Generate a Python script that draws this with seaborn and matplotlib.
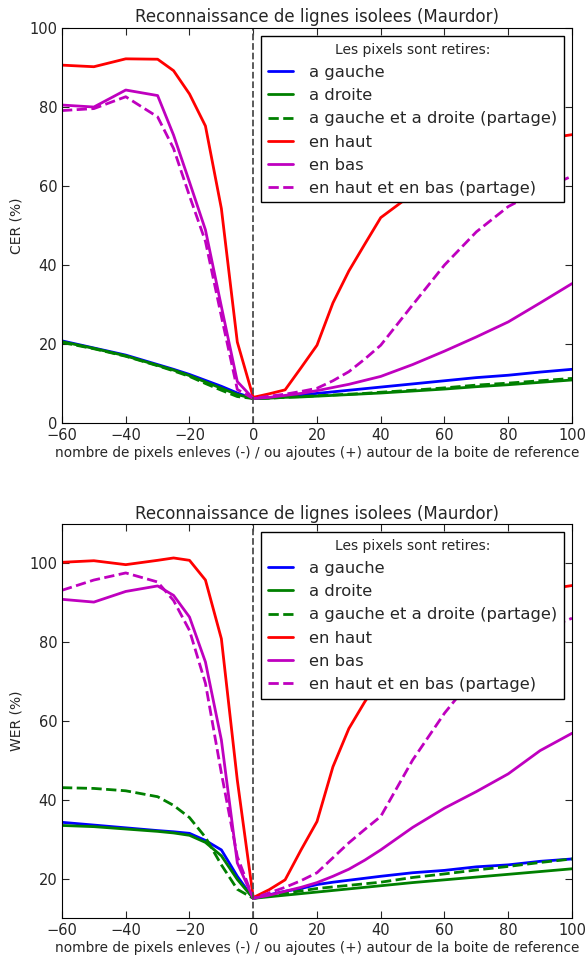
import numpy as np
import pandas as pd
import seaborn as sns
import matplotlib
matplotlib.use("Agg")
import matplotlib.pyplot as plt

## pixels removed (-) or added (+) around the reference box
x_pix = [-60, -50, -40, -30, -25, -20, -15, -10, -5, 0, 5, 10, 15, 20, 25, 30, 35, 40, 50, 60, 70, 80, 90, 100]

## CER (%) - top chart
cer_gauche = [20.8, 19.0, 17.2, 14.8, 13.6, 12.3, 10.8, 9.3, 7.6, 6.2, 6.4, 6.7, 7.1, 7.5, 7.9, 8.3, 8.7, 9.1, 9.9, 10.7, 11.5, 12.1, 12.9, 13.6]
cer_droite = [20.6, 18.9, 17.0, 14.6, 13.4, 12.0, 10.4, 8.8, 7.2, 6.2, 6.3, 6.5, 6.6, 6.8, 7.0, 7.2, 7.4, 7.6, 8.1, 8.6, 9.2, 9.7, 10.3, 10.9]
cer_gd_partage = [20.4, 18.8, 16.9, 14.5, 13.2, 11.8, 10.0, 8.3, 6.7, 6.2, 6.3, 6.5, 6.7, 6.9, 7.1, 7.3, 7.5, 7.8, 8.3, 8.9, 9.6, 10.1, 10.7, 11.3]
cer_haut = [90.6, 90.2, 92.2, 92.1, 89.2, 83.3, 75.2, 54.3, 20.5, 6.5, 7.4, 8.4, 14.0, 19.7, 30.4, 38.5, 45.3, 52.0, 58.0, 63.0, 67.0, 70.0, 71.8, 73.0]
cer_bas = [80.5, 80.0, 84.3, 82.9, 72.9, 61.0, 48.9, 29.5, 10.5, 6.2, 6.5, 7.0, 7.5, 8.2, 9.0, 9.8, 10.8, 11.8, 14.8, 18.2, 21.8, 25.6, 30.4, 35.3]
cer_hb_partage = [79.1, 79.6, 82.6, 77.5, 69.5, 57.5, 46.0, 27.0, 8.5, 6.2, 6.8, 7.3, 8.0, 8.8, 10.7, 13.0, 16.2, 19.7, 29.9, 40.0, 48.4, 54.8, 59.0, 62.5]

## WER (%) - bottom chart
wer_gauche = [34.3, 33.6, 32.9, 32.2, 31.9, 31.5, 29.7, 27.3, 20.6, 15.0, 15.9, 16.8, 17.5, 18.5, 19.1, 19.6, 20.1, 20.6, 21.5, 22.1, 23.0, 23.5, 24.4, 25.0]
wer_droite = [33.5, 33.2, 32.6, 32.0, 31.6, 31.0, 29.2, 25.8, 19.8, 15.0, 15.4, 15.8, 16.2, 16.6, 17.0, 17.4, 17.8, 18.2, 19.0, 19.7, 20.4, 21.1, 21.8, 22.5]
wer_gd_partage = [43.1, 42.9, 42.3, 40.8, 38.6, 35.5, 30.5, 23.5, 17.3, 15.0, 15.6, 16.3, 16.9, 17.5, 17.9, 18.3, 18.7, 19.1, 20.3, 21.2, 22.2, 23.1, 24.1, 25.0]
wer_haut = [100.3, 100.7, 99.7, 100.8, 101.4, 100.8, 95.8, 80.9, 45.0, 15.2, 17.2, 19.7, 27.3, 34.5, 48.4, 58.1, 64.9, 71.0, 79.0, 85.0, 89.0, 91.5, 93.2, 94.4]
wer_bas = [90.9, 90.2, 92.9, 94.3, 91.9, 86.4, 75.0, 55.2, 24.0, 15.0, 15.8, 16.8, 17.8, 19.0, 20.6, 22.4, 24.7, 27.3, 33.0, 37.9, 42.1, 46.6, 52.5, 56.9]
wer_hb_partage = [93.2, 95.8, 97.6, 95.3, 90.6, 83.0, 69.6, 46.8, 25.6, 15.0, 16.4, 17.8, 19.5, 21.5, 25.3, 29.1, 32.5, 35.8, 50.1, 62.0, 72.0, 79.0, 83.0, 86.1]

labels = ["a gauche", "a droite", "a gauche et a droite (partage)",
          "en haut", "en bas", "en haut et en bas (partage)"]
colors = ["b", "g", "g", "r", "m", "m"]
styles = ["-", "-", "--", "-", "-", "--"]

sns.set_style("ticks", {"xtick.direction": "in", "ytick.direction": "in",
                        "axes.edgecolor": "black"})
plt.rcParams["font.family"] = ["DejaVu Sans"]

fig = plt.figure(figsize=(5.86, 9.56), dpi=100)
ax1 = fig.add_axes([0.1058, 0.5575, 0.8703, 0.4132])
ax2 = fig.add_axes([0.1058, 0.0397, 0.8703, 0.4121])


def draw(ax, series, ylabel, ylim, yticks):
    for vals, lab, c, ls in zip(series, labels, colors, styles):
        df = pd.DataFrame({"x": x_pix, "y": vals})
        sns.lineplot(data=df, x="x", y="y", ax=ax, color=c, lw=2, label=lab)
        ax.lines[-1].set_linestyle(ls)
    ax.axvline(0, color="0.3", ls="--", lw=1.3)
    ax.set_xlim(-60, 100)
    ax.set_ylim(*ylim)
    ax.set_yticks(yticks)
    ax.set_xticks(range(-60, 101, 20))
    ax.tick_params(top=True, right=True, labelsize=10.5, length=5)
    ax.set_title("Reconnaissance de lignes isolees (Maurdor)", fontsize=12, pad=4)
    ax.set_xlabel("nombre de pixels enleves (-) / ou ajoutes (+) autour de la boite de reference",
                  fontsize=9.8, labelpad=2)
    ax.set_ylabel(ylabel, fontsize=10)
    leg = ax.legend(loc="upper right", title="Les pixels sont retires:", fontsize=11.8,
                    title_fontsize=10, fancybox=False, framealpha=1, edgecolor="black",
                    handlelength=1.5, handletextpad=1.0)
    leg.get_frame().set_linewidth(1)


draw(ax1, [cer_gauche, cer_droite, cer_gd_partage, cer_haut, cer_bas, cer_hb_partage],
     "CER (%)", (0, 100), range(0, 101, 20))
draw(ax2, [wer_gauche, wer_droite, wer_gd_partage, wer_haut, wer_bas, wer_hb_partage],
     "WER (%)", (10, 110), range(20, 101, 20))

fig.savefig("out.png", dpi=100)
